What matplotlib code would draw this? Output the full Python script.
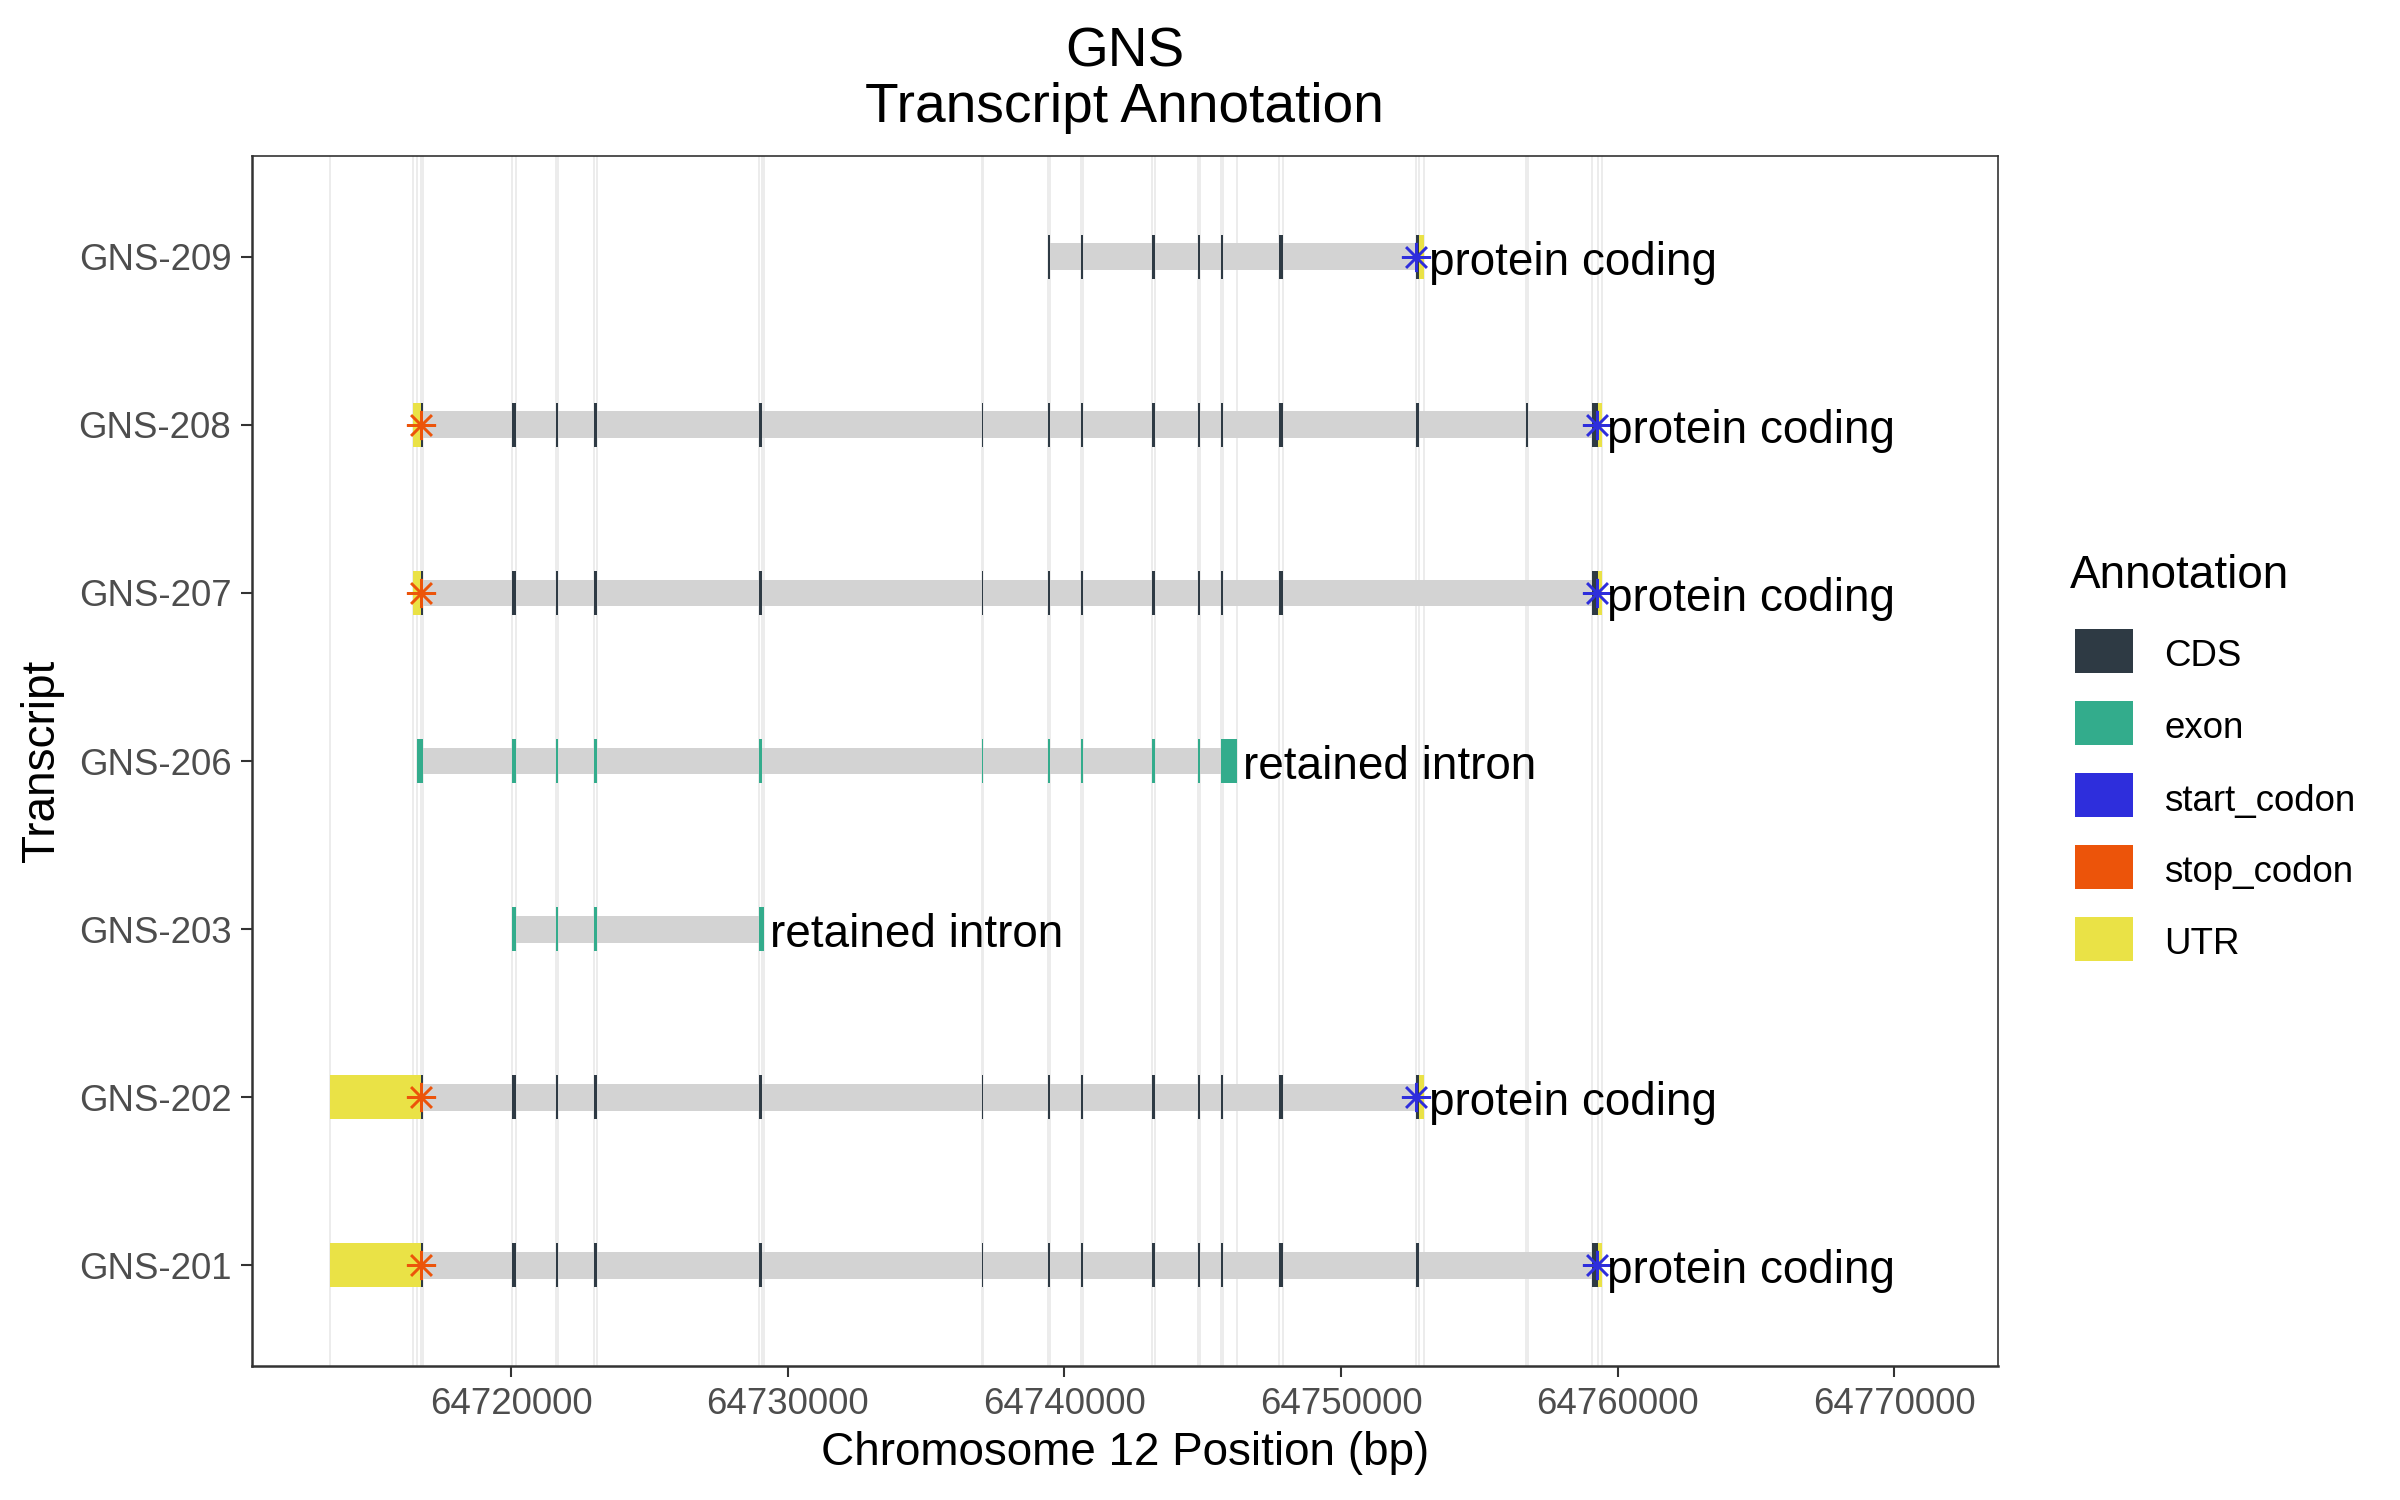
import matplotlib.pyplot as plt
from matplotlib.patches import Rectangle

plt.rcParams['font.family'] = ['Liberation Sans', 'DejaVu Sans']

# transcripts, bottom row first
transcripts = ["GNS-201", "GNS-202", "GNS-203", "GNS-206", "GNS-207", "GNS-208", "GNS-209"]
biotypes = ["protein coding", "protein coding", "retained intron", "retained intron",
            "protein coding", "protein coding", "protein coding"]

# coding part of the gene's exons (1..15), chr12 bp
exon_start = [64716746, 64720020, 64721610, 64723005, 64728965, 64737015, 64739395, 64740610,
              64743150, 64744825, 64745670, 64747750, 64752690, 64756690, 64759082]
exon_end = [64716830, 64720165, 64721710, 64723100, 64729055, 64737070, 64739470, 64740685,
            64743280, 64744895, 64745740, 64747890, 64752800, 64756745, 64759273]

# which exons carry CDS in each coding transcript
cds_exons = {
    "GNS-201": [1, 2, 3, 4, 5, 6, 7, 8, 9, 10, 11, 12, 13, 15],
    "GNS-202": [1, 2, 3, 4, 5, 6, 7, 8, 9, 10, 11, 12, 13],
    "GNS-207": [1, 2, 3, 4, 5, 6, 7, 8, 9, 10, 11, 12, 15],
    "GNS-208": [1, 2, 3, 4, 5, 6, 7, 8, 9, 10, 11, 12, 13, 14, 15],
    "GNS-209": [7, 8, 9, 10, 11, 12, 13],
}

# non-coding (retained intron) exons
nc_start = {
    "GNS-203": [64720020, 64721610, 64723005, 64728965],
    "GNS-206": [64716600, 64720020, 64721610, 64723005, 64728965, 64737015, 64739395,
                64740610, 64743150, 64744825, 64745670],
}
nc_end = {
    "GNS-203": [64720165, 64721710, 64723100, 64729150],
    "GNS-206": [64716830, 64720165, 64721710, 64723100, 64729055, 64737070, 64739470,
                64740685, 64743280, 64744895, 64746236],
}

utr_tx = ["GNS-201", "GNS-201", "GNS-202", "GNS-202", "GNS-207", "GNS-207",
          "GNS-208", "GNS-208", "GNS-209"]
utr_start = [64713449, 64759273, 64713449, 64752800, 64716446, 64759273,
             64716446, 64759273, 64752800]
utr_end = [64716746, 64759418, 64716746, 64752983, 64716746, 64759418,
           64716746, 64759418, 64752983]

start_codon = {"GNS-201": 64759262, "GNS-202": 64752719, "GNS-207": 64759262,
               "GNS-208": 64759262, "GNS-209": 64752719}
stop_codon = {"GNS-201": 64716746, "GNS-202": 64716746, "GNS-207": 64716746,
              "GNS-208": 64716746}

xticks = [64720000, 64730000, 64740000, 64750000, 64760000, 64770000]

annot_names = ["CDS", "exon", "start_codon", "stop_codon", "UTR"]
annot_colors = ["#2E3A44", "#33AC8C", "#2E2EDC", "#EC540A", "#EAE246"]
col = dict(zip(annot_names, annot_colors))

fig = plt.figure(figsize=(8, 5), dpi=300)
ax = fig.add_axes([0.105, 0.0893, 0.7273, 0.8067])

ypos = {t: i + 1 for i, t in enumerate(transcripts)}
exon_h = 0.265
intron_h = 0.16

bounds = set()
tx_span = {}
for t in transcripts:
    starts, ends = [], []
    if t in cds_exons:
        starts += [exon_start[k - 1] for k in cds_exons[t]]
        ends += [exon_end[k - 1] for k in cds_exons[t]]
    if t in nc_start:
        starts += nc_start[t]
        ends += nc_end[t]
    for s, e, u in zip(utr_start, utr_end, utr_tx):
        if u == t:
            starts.append(s)
            ends.append(e)
    tx_span[t] = (min(starts), max(ends))
    bounds.update(starts)
    bounds.update(ends)

# exon boundary guide lines
for b in sorted(bounds):
    ax.axvline(b, color="#EBEBEB", lw=0.45, zorder=0.5)

# backbone
for t in transcripts:
    s, e = tx_span[t]
    ax.barh(ypos[t], e - s, left=s, height=intron_h, color="#D3D3D3", zorder=1)

# UTRs
for s, e, t in zip(utr_start, utr_end, utr_tx):
    ax.barh(ypos[t], e - s, left=s, height=exon_h, color=col["UTR"], zorder=2)

# CDS
for t, idx in cds_exons.items():
    for k in idx:
        s, e = exon_start[k - 1], exon_end[k - 1]
        ax.barh(ypos[t], e - s, left=s, height=exon_h, color=col["CDS"], zorder=3)

# non-coding exons
for t in nc_start:
    for s, e in zip(nc_start[t], nc_end[t]):
        ax.barh(ypos[t], e - s, left=s, height=exon_h, color=col["exon"], zorder=3)

# codons
for t, p in stop_codon.items():
    ax.plot(p, ypos[t], marker=(8, 2, 0), ms=7, mew=0.6, color=col["stop_codon"],
            linestyle="none", zorder=4)
for t, p in start_codon.items():
    ax.plot(p, ypos[t], marker=(8, 2, 0), ms=7, mew=0.6, color=col["start_codon"],
            linestyle="none", zorder=4)

# biotype labels
for t, lab in zip(transcripts, biotypes):
    ax.text(tx_span[t][1] + 200, ypos[t] - 0.035, lab, ha="left", va="center",
            fontsize=11, color="black", zorder=5)

ax.set_xlim(64710636, 64773724)
ax.set_ylim(0.4, len(transcripts) + 0.6)
ax.set_xticks(xticks)
ax.set_xticklabels([str(x) for x in xticks])
ax.set_yticks([ypos[t] for t in transcripts])
ax.set_yticklabels(transcripts)
ax.tick_params(length=2.75, width=0.5, color="#333333", labelsize=8.8,
               labelcolor="#4D4D4D", pad=2.2)
for side, sp in ax.spines.items():
    sp.set_color("#333333")
    sp.set_linewidth(0.6 if side in ("left", "bottom") else 0.4)

ax.set_xlabel("Chromosome 12 Position (bp)", fontsize=11)
ax.xaxis.set_label_coords(0.5, -0.072)
ax.xaxis.label.set_va("center")
ax.set_ylabel("Transcript", fontsize=11)
ax.yaxis.set_label_coords(-0.1203, 0.5)
ax.yaxis.label.set_va("center")

fig.text(0.4687, 0.9467, "GNS\nTranscript Annotation", ha="center", va="center",
         fontsize=13.2, linespacing=1.08)

# legend
W, H = 2400, 1500
fig.text(2070 / W, 1 - 588 / H, "Annotation", fontsize=11, va="baseline", ha="left")
for i, (name, c) in enumerate(zip(annot_names, annot_colors)):
    top = 629 + 72 * i
    fig.add_artist(Rectangle((2075 / W, 1 - (top + 44) / H), 58 / W, 44 / H,
                             transform=fig.transFigure, facecolor=c, edgecolor="none"))
    fig.text(2164 / W, 1 - (top + 28) / H, name, fontsize=8.8, va="center", ha="left")

fig.savefig("out.png", dpi=300)
plt.close(fig)
